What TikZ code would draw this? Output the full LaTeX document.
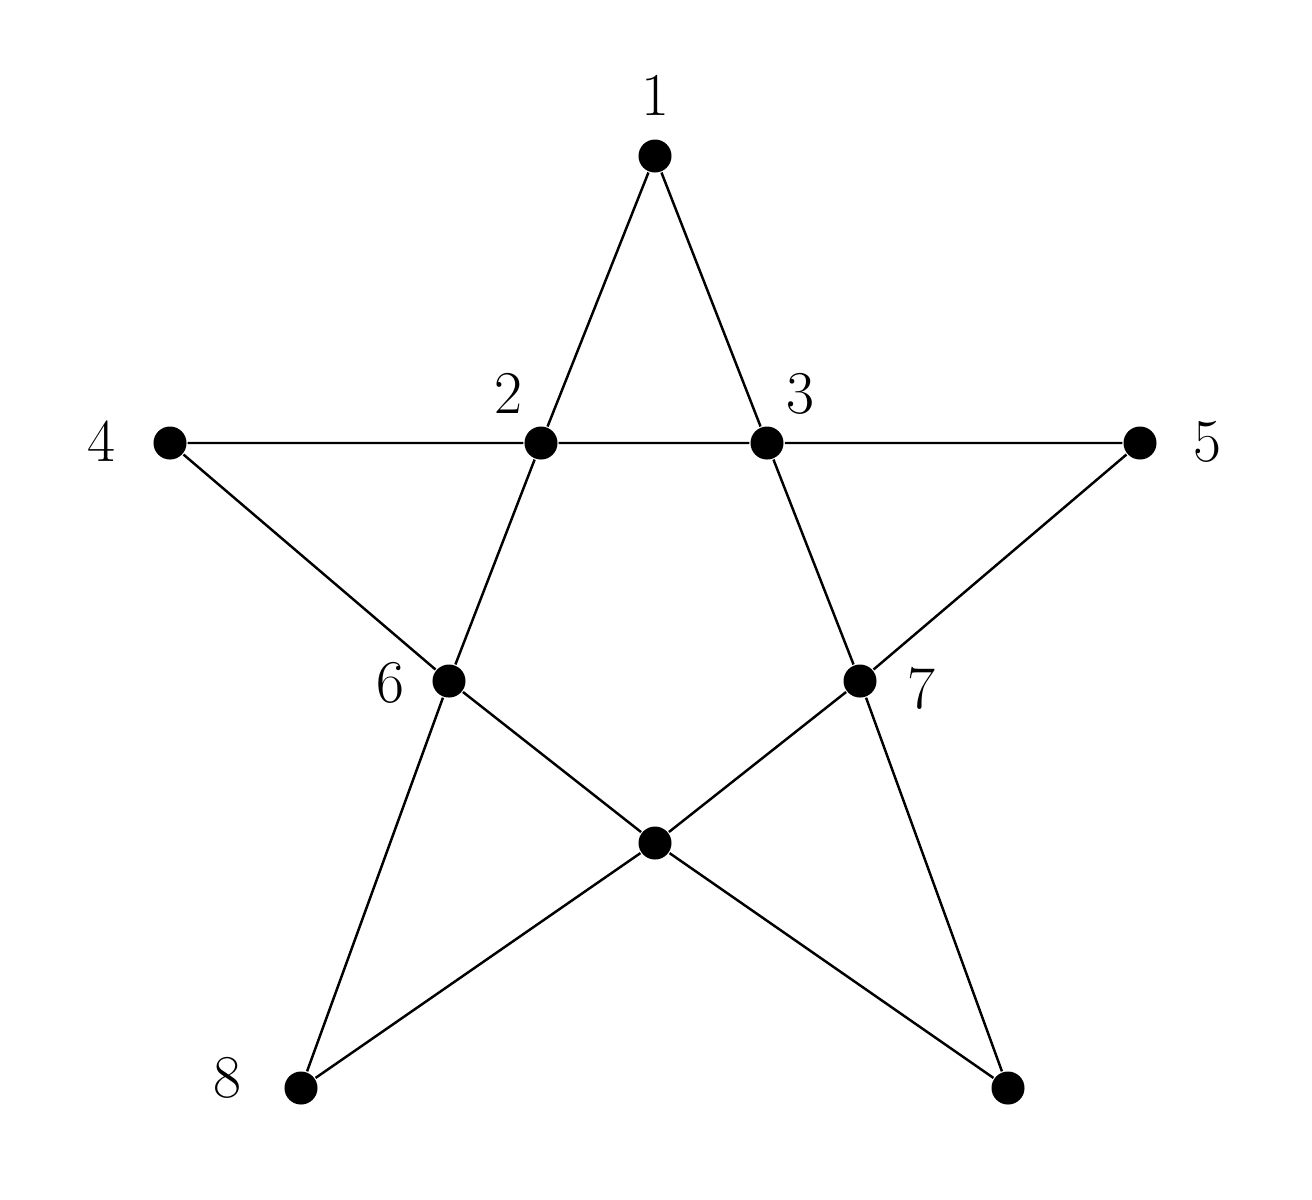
\documentclass[tikz,border=0pt]{standalone}
\usetikzlibrary{positioning}
\tikzset{
    vertex/.style={circle, fill=black, inner sep=0pt, minimum size=0.33cm},
    lbl/.style={font=\fontsize{17}{20}\selectfont, inner sep=0pt}
}
\begin{document}
\begin{tikzpicture}[x=0.01cm, y=-0.01cm, line width=0.7pt]
        \useasboundingbox (0,0) rectangle (1312,1199);
        \node[vertex] (n1) at (655,156) {};
        \node[vertex] (n2) at (541,443) {};
        \node[vertex] (n3) at (767,443) {};
        \node[vertex] (n4) at (170,443) {};
        \node[vertex] (n5) at (1140,443) {};
        \node[vertex] (n6) at (449,681) {};
        \node[vertex] (n7) at (860,681) {};
        \node[vertex] (n9) at (655,843) {};
        \node[vertex] (n8) at (301,1088) {};
        \node[vertex] (n10) at (1008,1088) {};
        \node[lbl] at (655,96) {$1$};
        \node[lbl] at (508,394) {$2$};
        \node[lbl] at (800,394) {$3$};
        \node[lbl] at (101,442) {$4$};
        \node[lbl] at (1207,442) {$5$};
        \node[lbl] at (390,683) {$6$};
        \node[lbl] at (921,689) {$7$};
        \node[lbl] at (227,1078) {$8$};
        \draw (n1) -- (n2) -- (n6) -- (n8) -- (n9) -- (n7) -- (n5) -- (n3) -- (n2) -- (n4) -- (n6) -- (n9) -- (n10) -- (n7) -- (n3) -- (n1);
    \end{tikzpicture}
\end{document}
